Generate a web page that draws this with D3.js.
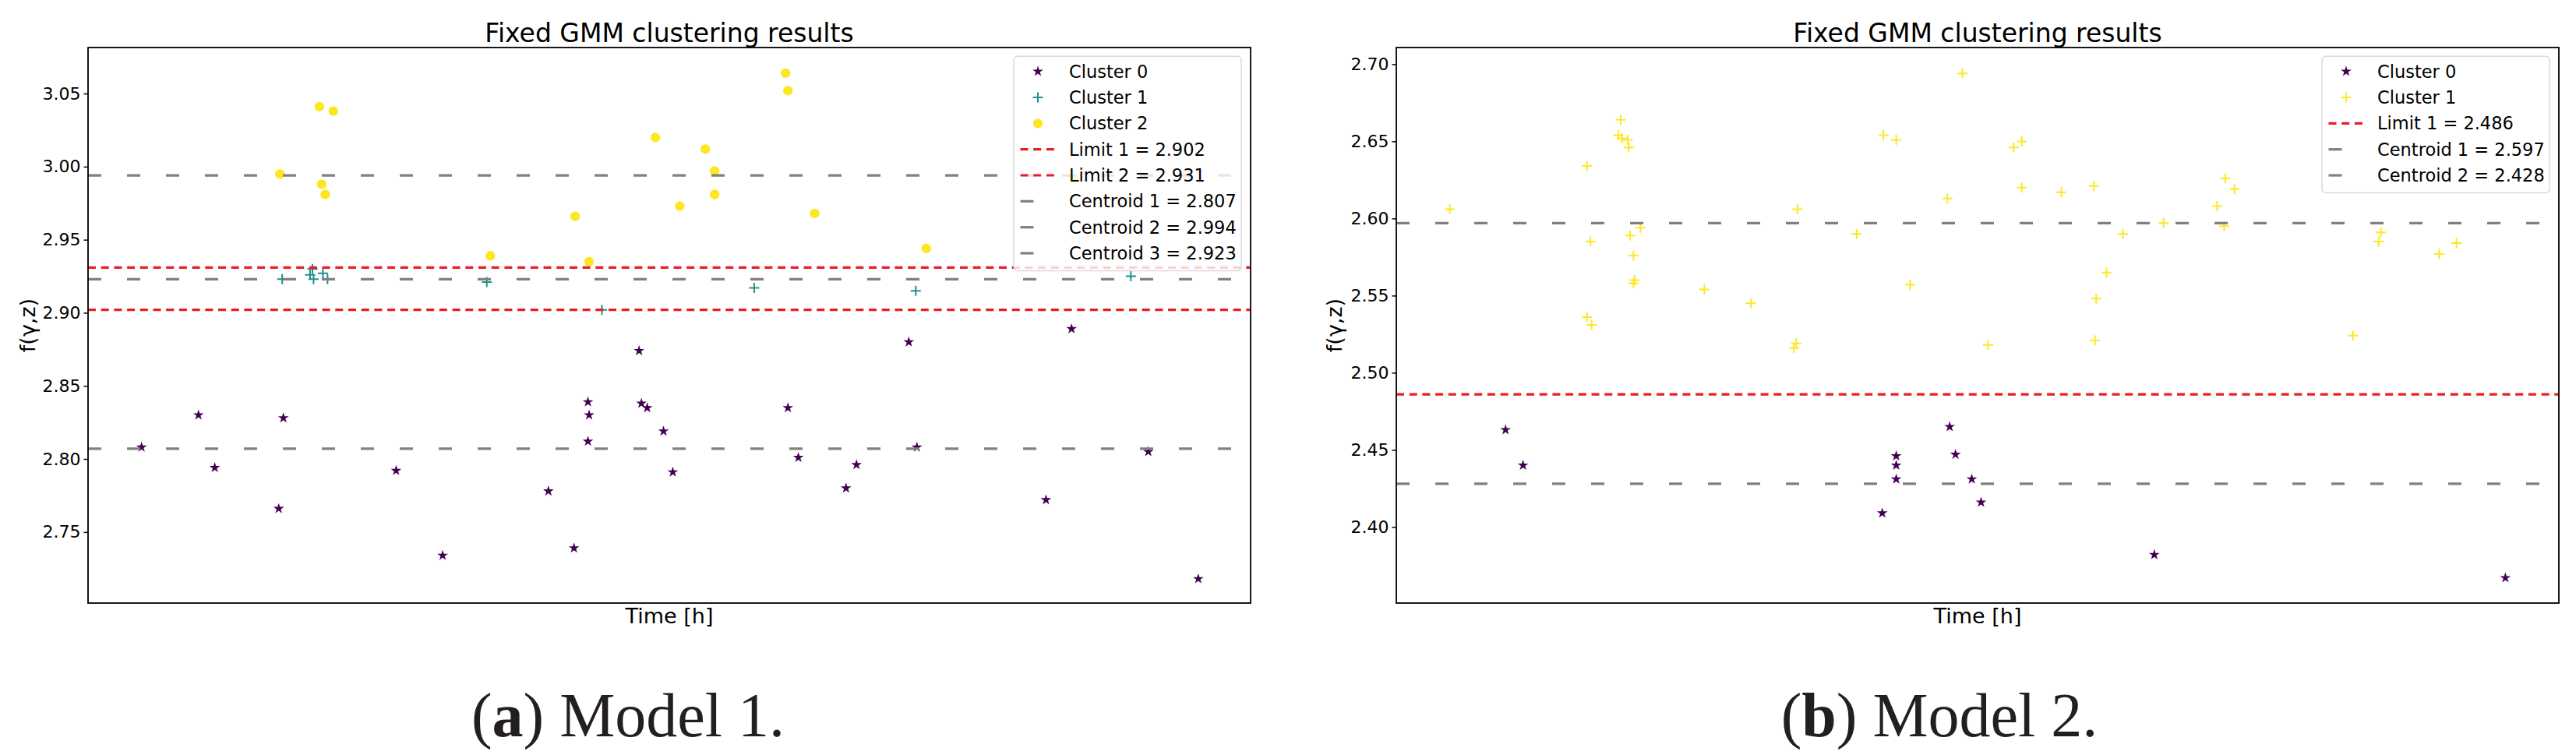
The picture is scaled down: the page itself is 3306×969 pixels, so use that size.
<!DOCTYPE html>
<html>
<head>
<meta charset="utf-8">
<script src="https://cdn.jsdelivr.net/npm/d3@7"></script>
<style>
  body { margin: 0; background: #fff; }
  text { font-family: "DejaVu Sans", sans-serif; }
</style>
</head>
<body>
<script>
// ---- data: [time (arbitrary 0-100), f(γ,z)] ----
const model1Cluster0 = [
  [4.6, 2.808], [9.5, 2.830], [10.9, 2.794], [16.4, 2.766], [16.8, 2.828],
  [26.5, 2.792], [30.5, 2.734], [39.6, 2.778], [41.8, 2.739], [43.0, 2.839],
  [43.1, 2.830], [43.0, 2.812], [47.4, 2.874], [47.6, 2.838], [48.1, 2.835],
  [49.5, 2.819], [50.3, 2.791], [60.2, 2.835], [61.1, 2.801], [65.2, 2.780],
  [66.1, 2.796], [70.6, 2.880], [71.3, 2.808], [82.4, 2.772], [84.6, 2.889],
  [91.2, 2.805], [95.5, 2.718]
];
const model1Cluster1 = [
  [16.7, 2.923], [19.3, 2.930], [19.1, 2.926], [19.4, 2.923], [20.2, 2.927],
  [20.6, 2.923], [34.3, 2.921], [44.2, 2.902], [57.3, 2.917], [71.2, 2.915],
  [89.7, 2.925]
];
const model1Cluster2 = [
  [16.5, 2.995], [19.9, 3.041], [21.1, 3.038], [20.1, 2.988], [20.4, 2.981],
  [34.6, 2.939], [41.9, 2.966], [43.1, 2.935], [48.8, 3.020], [53.1, 3.012],
  [53.9, 2.997], [53.9, 2.981], [50.9, 2.973], [60.0, 3.064], [60.2, 3.052],
  [62.5, 2.968], [72.1, 2.944], [84.8, 2.992]
];
const model1Limits = [2.902, 2.931];
const model1Centroids = [2.807, 2.994, 2.923];
const model1Ticks = [2.75, 2.80, 2.85, 2.90, 2.95, 3.00, 3.05];

const model2Cluster0 = [
  [9.4, 2.463], [10.9, 2.440], [41.8, 2.409], [43.0, 2.446], [43.0, 2.440],
  [43.0, 2.431], [47.6, 2.465], [48.1, 2.447], [49.5, 2.431], [50.3, 2.416],
  [65.2, 2.382], [95.4, 2.367]
];
const model2Cluster1 = [
  [4.6, 2.606], [16.4, 2.634], [19.3, 2.664], [19.1, 2.654], [19.4, 2.652],
  [19.9, 2.651], [20.0, 2.646], [16.7, 2.585], [20.1, 2.589], [21.0, 2.594],
  [20.4, 2.576], [20.5, 2.560], [20.4, 2.558], [26.5, 2.554], [30.5, 2.545],
  [16.4, 2.536], [16.8, 2.531], [34.5, 2.606], [34.2, 2.516], [34.4, 2.519],
  [39.6, 2.590], [41.9, 2.654], [43.0, 2.651], [44.2, 2.557], [48.7, 2.694],
  [53.1, 2.646], [53.8, 2.650], [47.4, 2.613], [53.8, 2.620], [57.2, 2.617],
  [60.0, 2.621], [71.3, 2.626], [72.1, 2.619], [70.6, 2.608], [66.0, 2.597],
  [71.2, 2.595], [62.5, 2.590], [84.7, 2.591], [84.5, 2.585], [91.2, 2.584],
  [89.7, 2.577], [61.1, 2.565], [60.2, 2.548], [50.9, 2.518], [60.1, 2.521],
  [82.3, 2.524]
];
const model2Limits = [2.486];
const model2Centroids = [2.597, 2.428];
const model2Ticks = [2.40, 2.45, 2.50, 2.55, 2.60, 2.65, 2.70];

const width = 3306, height = 969;
const purple = "#440154", teal = "#21918c", yellow = "#fde725";
const limitColor = "#ec1c24", centroidColor = "#808080";

const svg = d3.select("body").append("svg")
  .attr("width", width)
  .attr("height", height)
  .style("background", "#fff");

const drawMarker = (g, shape, color) => {
  if (shape === "star") {
    g.append("path").attr("d", d3.symbol(d3.symbolStar, 58)()).attr("fill", color);
  } else if (shape === "plus") {
    g.append("path").attr("d", "M-6.5,0H6.5M0,-6.5V6.5")
      .attr("stroke", color).attr("stroke-width", 2).attr("fill", "none");
  } else {
    g.append("circle").attr("r", 6.2).attr("fill", color);
  }
};

const drawPanel = (p) => {
  const g = svg.append("g");
  const x = d3.scaleLinear().domain([0, 100]).range([p.left, p.right]);
  const y = d3.scaleLinear().domain(p.yDomain).range([p.bottom, p.top]);

  // points
  p.clusters.forEach(c => {
    g.append("g").selectAll("g")
      .data(c.data)
      .join("g")
      .attr("transform", d => `translate(${x(d[0])},${y(d[1])})`)
      .each(function () { drawMarker(d3.select(this), c.shape, c.color); });
  });

  // limits and centroids
  g.selectAll(".limit")
    .data(p.limits)
    .join("line")
    .attr("class", "limit")
    .attr("x1", p.left).attr("x2", p.right)
    .attr("y1", d => y(d)).attr("y2", d => y(d))
    .attr("stroke", limitColor).attr("stroke-width", 3.2)
    .attr("stroke-dasharray", "10,6.7");

  g.selectAll(".centroid")
    .data(p.centroids)
    .join("line")
    .attr("class", "centroid")
    .attr("x1", p.left).attr("x2", p.right)
    .attr("y1", d => y(d)).attr("y2", d => y(d))
    .attr("stroke", centroidColor).attr("stroke-width", 3.2)
    .attr("stroke-dasharray", "17,33");

  // frame
  g.append("rect")
    .attr("x", p.left).attr("y", p.top)
    .attr("width", p.right - p.left).attr("height", p.bottom - p.top)
    .attr("fill", "none").attr("stroke", "#000").attr("stroke-width", 1.8);

  // y axis
  const yAxis = d3.axisLeft(y).tickValues(p.ticks).tickFormat(d3.format(".2f"))
    .tickSize(5.5).tickPadding(4);
  const ag = g.append("g").attr("transform", `translate(${p.left},0)`).call(yAxis);
  ag.select(".domain").remove();
  ag.selectAll(".tick line").attr("stroke", "#000").attr("stroke-width", 1.5);
  ag.selectAll(".tick text")
    .attr("fill", "#000")
    .style("font-family", "DejaVu Sans")
    .style("font-size", "22px");

  // labels
  const cx = (p.left + p.right) / 2;
  g.append("text").attr("x", cx).attr("y", 54)
    .attr("text-anchor", "middle").style("font-size", "33px")
    .text("Fixed GMM clustering results");
  g.append("text").attr("x", cx).attr("y", 800)
    .attr("text-anchor", "middle").style("font-size", "27px")
    .text("Time [h]");
  g.append("text")
    .attr("transform", `translate(${p.ylabelX},${(p.top + p.bottom) / 2}) rotate(-90)`)
    .attr("text-anchor", "middle").style("font-size", "27px")
    .text("f(γ,z)");

  // legend
  const items = [];
  p.clusters.forEach(c => items.push({ type: c.shape, color: c.color, label: c.name }));
  p.limits.forEach((v, i) => items.push({ type: "limit", label: `Limit ${i + 1} = ${v.toFixed(3)}` }));
  p.centroids.forEach((v, i) => items.push({ type: "centroid", label: `Centroid ${i + 1} = ${v.toFixed(3)}` }));

  const rowH = 33.33;
  const boxW = 292, boxH = items.length * rowH + 8.6;
  const bx = p.right - 12 - boxW, by = p.top + 11.3;
  const lg = g.append("g");
  lg.append("rect")
    .attr("x", bx).attr("y", by).attr("width", boxW).attr("height", boxH)
    .attr("rx", 5)
    .attr("fill", "#fff").attr("fill-opacity", 0.8)
    .attr("stroke", "#d0d0d0").attr("stroke-opacity", 0.8).attr("stroke-width", 1.5);

  const row = lg.selectAll(".row")
    .data(items)
    .join("g")
    .attr("class", "row")
    .attr("transform", (d, i) => `translate(${bx},${by + 19.4 + i * rowH})`);

  row.each(function (d) {
    const r = d3.select(this);
    if (d.type === "limit" || d.type === "centroid") {
      r.append("line").attr("x1", 8.5).attr("x2", 52.5).attr("y1", 0).attr("y2", 0)
        .attr("stroke", d.type === "limit" ? limitColor : centroidColor)
        .attr("stroke-width", 3.2)
        .attr("stroke-dasharray", d.type === "limit" ? "10,6.7" : "17,33");
    } else {
      const m = r.append("g").attr("transform", "translate(31,0)");
      drawMarker(m, d.type, d.color);
    }
    r.append("text").attr("x", 71).attr("dy", "0.36em")
      .style("font-size", "22.5px").text(d.label);
  });

  // caption
  const cap = svg.append("text")
    .attr("x", p.captionX).attr("y", 945)
    .attr("text-anchor", "middle")
    .attr("fill", "#231f20")
    .style("font-family", "Liberation Serif, serif")
    .style("font-size", "80px");
  cap.append("tspan").text("(");
  cap.append("tspan").style("font-weight", "bold").text(p.letter);
  cap.append("tspan").text(") " + p.caption);
};

drawPanel({
  left: 113, right: 1605, top: 61, bottom: 774,
  yDomain: [2.7014, 3.0815],
  ticks: model1Ticks,
  clusters: [
    { name: "Cluster 0", data: model1Cluster0, color: purple, shape: "star" },
    { name: "Cluster 1", data: model1Cluster1, color: teal, shape: "plus" },
    { name: "Cluster 2", data: model1Cluster2, color: yellow, shape: "circle" }
  ],
  limits: model1Limits,
  centroids: model1Centroids,
  ylabelX: 45,
  letter: "a", caption: "Model 1.", captionX: 806
});

drawPanel({
  left: 1792, right: 3284, top: 61, bottom: 774,
  yDomain: [2.3507, 2.7108],
  ticks: model2Ticks,
  clusters: [
    { name: "Cluster 0", data: model2Cluster0, color: purple, shape: "star" },
    { name: "Cluster 1", data: model2Cluster1, color: yellow, shape: "plus" }
  ],
  limits: model2Limits,
  centroids: model2Centroids,
  ylabelX: 1722,
  letter: "b", caption: "Model 2.", captionX: 2489
});
</script>
</body>
</html>
